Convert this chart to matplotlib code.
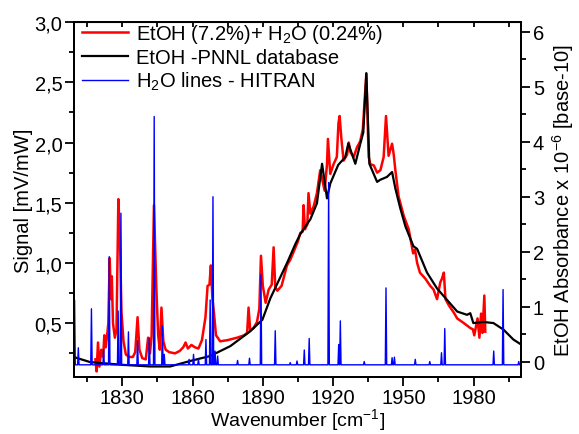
import numpy as np
import matplotlib
matplotlib.use("Agg")
import matplotlib.pyplot as plt
from matplotlib.ticker import MultipleLocator, FuncFormatter

plt.rcParams["font.family"] = ["Liberation Sans", "DejaVu Sans"]
plt.rcParams["mathtext.fontset"] = "custom"
plt.rcParams["mathtext.rm"] = "Liberation Sans"

# --- measured signal (left axis, mV/mW) ---
red_x = [1818.5, 1819.0, 1819.6, 1820.2, 1821.0, 1821.8, 1822.3, 1822.9, 1823.5, 1824.0,
         1824.6, 1825.1, 1825.5, 1826.0, 1826.8, 1827.5, 1828.3, 1829.0, 1829.6, 1830.5,
         1831.5, 1833.0, 1834.5, 1835.5, 1836.5, 1837.3, 1838.5, 1840.0, 1841.0, 1841.8,
         1842.5, 1843.5, 1844.5, 1845.3, 1846.0, 1846.7, 1847.5, 1848.5, 1850.0, 1852.5,
         1854.5, 1856.0, 1857.0, 1858.0, 1859.5, 1861.0, 1862.5, 1864.0, 1865.5, 1866.4,
         1867.2, 1867.8, 1868.5, 1869.2, 1870.0, 1871.8, 1875.0, 1879.0, 1882.0, 1883.3,
         1883.9, 1884.6, 1886.0, 1887.5, 1888.5, 1889.2, 1890.0, 1891.2, 1892.5, 1893.8,
         1894.6, 1895.3, 1896.2, 1898.0, 1900.3, 1901.8, 1903.5, 1905.0, 1906.0, 1907.0,
         1907.4, 1908.0, 1909.0, 1909.5, 1910.3, 1911.7, 1913.1, 1914.5, 1915.7, 1916.4,
         1917.4, 1917.8, 1918.8, 1920.2, 1921.6, 1922.3, 1922.8, 1923.5, 1924.5, 1926.0,
         1926.7, 1927.4, 1928.8, 1930.2, 1931.6, 1932.7, 1934.2, 1935.2, 1935.9, 1937.4,
         1938.8, 1940.2, 1941.6, 1942.6, 1943.7, 1945.2, 1945.9, 1946.6, 1948.0, 1950.2,
         1952.3, 1954.2, 1955.0, 1955.9, 1957.1, 1959.4, 1961.5, 1962.9, 1964.4, 1965.8,
         1966.5, 1967.3, 1968.0, 1969.4, 1971.5, 1973.0, 1975.2, 1977.3, 1978.6, 1979.7,
         1980.3, 1981.7, 1982.5, 1983.2, 1983.8, 1984.6, 1985.0]
red_y = [0.20, 0.10, 0.34, 0.14, 0.28, 0.22, 0.40, 0.30, 0.40, 0.50,
         1.04, 0.70, 0.89, 0.50, 0.38, 0.45, 1.53, 1.20, 0.60, 0.35,
         0.24, 0.22, 0.22, 0.26, 0.55, 0.28, 0.21, 0.20, 0.38, 0.25,
         0.40, 1.48, 0.80, 0.40, 0.28, 0.63, 0.35, 0.28, 0.26, 0.25,
         0.27, 0.30, 0.34, 0.29, 0.32, 0.30, 0.29, 0.36, 0.55, 0.81,
         0.82, 0.98, 0.70, 0.57, 0.40, 0.35, 0.36, 0.38, 0.40, 0.42,
         0.63, 0.44, 0.46, 0.51, 0.62, 1.06, 0.81, 0.67, 0.78, 0.82,
         1.13, 0.80, 0.77, 0.81, 0.98, 1.03, 1.11, 1.18, 1.25, 1.26,
         1.48, 1.28, 1.32, 1.58, 1.41, 1.47, 1.58, 1.77, 1.66, 1.60,
         1.82, 2.03, 1.74, 1.82, 1.88, 2.16, 2.22, 2.04, 1.85, 1.90,
         2.00, 1.92, 1.88, 1.96, 2.01, 2.11, 2.57, 1.88, 1.82, 1.81,
         1.75, 1.77, 1.88, 2.22, 1.89, 1.99, 1.90, 1.77, 1.55, 1.39,
         1.28, 1.08, 1.11, 1.00, 0.92, 0.87, 0.81, 0.78, 0.70, 0.84,
         0.87, 0.92, 0.70, 0.65, 0.59, 0.54, 0.51, 0.48, 0.46, 0.45,
         0.40, 0.54, 0.38, 0.58, 0.42, 0.73, 0.43]

# --- PNNL reference (right axis, absorbance x 1e-6) ---
pnnl_x = [1809.4, 1816.2, 1829.9, 1841.9, 1850.4, 1859.0, 1867.5, 1876.1, 1884.6, 1889.8,
          1893.2, 1900.4, 1903.9, 1906.0, 1910.3, 1913.1, 1915.3, 1917.4, 1918.8, 1922.2,
          1925.2, 1926.5, 1929.5, 1931.6, 1932.9, 1934.2, 1935.5, 1938.8, 1940.2, 1943.0,
          1945.2, 1946.6, 1948.7, 1950.9, 1954.3, 1955.9, 1960.1, 1964.4, 1968.7, 1973.0,
          1977.2, 1978.6, 1979.9, 1984.2, 1988.5, 1992.8, 1997.0, 2000.3]
pnnl_y = [0.08, -0.01, -0.06, -0.09, -0.09, 0.01, 0.10, 0.28, 0.55, 0.76,
          1.15, 1.80, 2.14, 2.32, 2.59, 2.88, 3.60, 2.97, 3.24, 3.58,
          3.72, 3.97, 3.60, 3.96, 4.17, 5.25, 3.60, 3.27, 3.31, 3.36,
          3.45, 3.15, 2.79, 2.46, 2.10, 2.05, 1.62, 1.33, 1.12, 0.91,
          0.85, 0.88, 0.70, 0.72, 0.70, 0.58, 0.40, 0.31]

# --- HITRAN water lines (position, peak height on right axis) ---
h2o_pos = [1809.6, 1811.2, 1816.8, 1822.0, 1824.4, 1828.2, 1829.4, 1832.6, 1836.5, 1841.5,
           1843.6, 1847.1, 1847.9, 1858.5, 1860.4, 1862.5, 1865.7, 1867.5, 1868.7, 1869.6,
           1870.7, 1879.2, 1884.3, 1889.2, 1895.3, 1901.7, 1904.6, 1907.7, 1909.8, 1918.1,
           1922.4, 1923.1, 1933.3, 1942.6, 1945.2, 1946.2, 1955.1, 1961.3, 1966.3, 1967.7,
           1988.6, 1992.6, 1999.3]
h2o_peak = [1.12, 0.25, 0.96, 0.22, 1.91, 0.92, 2.70, 0.54, 0.38, 0.43,
            4.46, 0.65, 0.13, 0.04, 0.13, 0.04, 0.40, 1.12, 3.00, 0.19,
            0.10, 0.02, 0.06, 1.58, 0.56, -0.02, 0.01, 0.21, 0.42, 3.26,
            0.31, 0.74, 0.00, 1.34, 0.07, 0.08, 0.04, 0.00, 0.16, 0.60,
            0.19, 1.31, 0.00]
h2o_base = -0.06

# build stick trace for the water lines
bx, by = [1809.0], [h2o_base]
for p, h in zip(h2o_pos, h2o_peak):
    bx += [p - 0.3, p, p + 0.3]
    by += [h2o_base, h, h2o_base]
bx.append(2001.0)
by.append(h2o_base)

fig = plt.figure(figsize=(5.79, 4.35), dpi=100)
ax = fig.add_axes([0.128, 0.13, 0.772, 0.817])
ax2 = ax.twinx()

l1, = ax.plot(red_x, red_y, color="#ff0000", lw=1.8)
l2, = ax2.plot(pnnl_x, pnnl_y, color="black", lw=1.6)
l3, = ax2.plot(bx, by, color="#0000ff", lw=1.0)

ax.set_xlim(1809.4, 2000.3)
ax.set_ylim(0.05, 3.0)
ax2.set_ylim(-0.29, 6.18)

ax.xaxis.set_major_locator(MultipleLocator(30))
ax.xaxis.set_minor_locator(MultipleLocator(15))
ax.yaxis.set_major_locator(MultipleLocator(0.5))
ax.yaxis.set_minor_locator(MultipleLocator(0.25))
ax.yaxis.set_major_formatter(FuncFormatter(lambda v, _: f"{v:.1f}".replace(".", ",")))
ax2.yaxis.set_major_locator(MultipleLocator(1))
ax2.yaxis.set_minor_locator(MultipleLocator(0.5))

fs = 14.5
for a in (ax, ax2):
    a.tick_params(which="major", direction="out", length=6.5, width=1.3, labelsize=fs, pad=2)
    a.tick_params(which="minor", direction="out", length=3.5, width=1.3)
    for s in a.spines.values():
        s.set_linewidth(1.4)
ax.tick_params(axis="x", which="major", pad=1)

# inward ticks along the top edge
top = ax.secondary_xaxis("top")
top.xaxis.set_major_locator(MultipleLocator(15))
top.tick_params(direction="in", length=3.5, width=1.3, labeltop=False)

ax.set_xlabel("Wavenumber [cm$^{-1}$]", fontsize=14, labelpad=0)
ax.set_ylabel("Signal [mV/mW]", fontsize=fs, labelpad=1)
ax2.set_ylabel("EtOH Absorbance x 10$^{-6}$ [base-10]", fontsize=fs, labelpad=4)

leg = ax.legend([l1, l2, l3],
                ["EtOH (7.2%)+ H$_2$O (0.24%)", "EtOH -PNNL database", "H$_2$O lines - HITRAN"],
                loc="upper left", bbox_to_anchor=(-0.015, 1.04), frameon=False, fontsize=14.5,
                handlelength=2.3, handletextpad=0.4, labelspacing=0.15, borderaxespad=0.3)

plt.savefig("out.png", dpi=100)
plt.close()
